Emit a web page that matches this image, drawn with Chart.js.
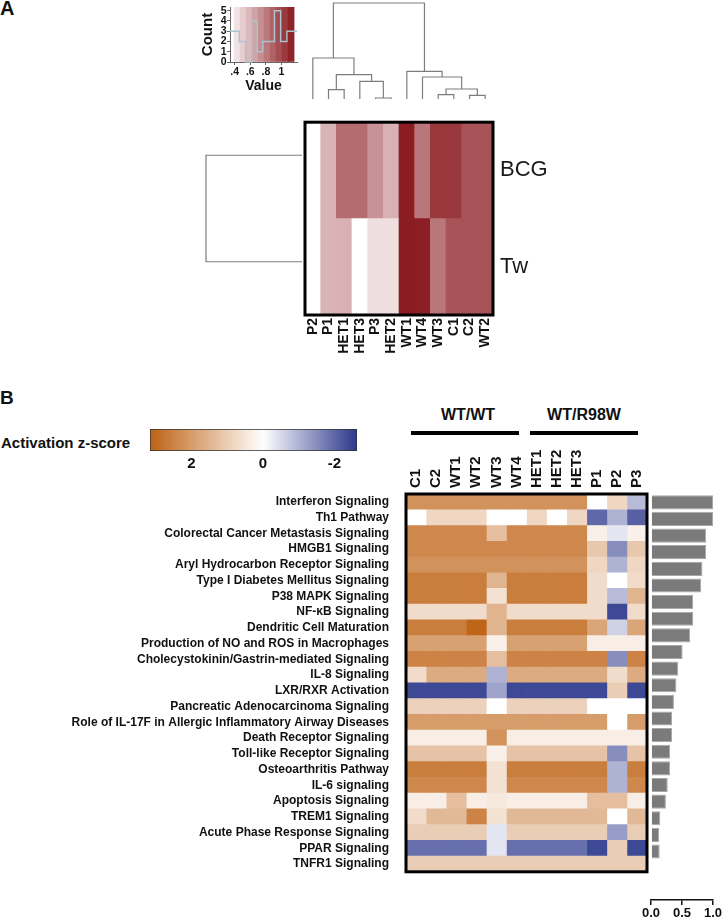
<!DOCTYPE html>
<html><head><meta charset="utf-8">
<script src="https://cdn.jsdelivr.net/npm/chart.js@4.4.1/dist/chart.umd.min.js"></script>
<style>
html,body{margin:0;padding:0;background:#fff;}
body{width:725px;height:921px;position:relative;overflow:hidden;font-family:"Liberation Sans",Arial,Helvetica,sans-serif;color:#111;}
canvas{position:absolute;}
.t{position:absolute;white-space:nowrap;font-weight:bold;line-height:1;}
.ln{position:absolute;background:#000;height:3px;}
</style></head><body>
<div class="t" style="left:0px;top:-2px;font-size:20px;">A</div>
<div class="t" style="left:0px;top:388px;font-size:19px;">B</div>
<div class="t" style="left:1px;top:435px;font-size:15px;">Activation z-score</div>
<div class="t" style="left:414px;top:407px;width:108px;text-align:center;font-size:16px;">WT/WT</div>
<div class="t" style="left:530px;top:407px;width:108px;text-align:center;font-size:16px;">WT/R98W</div>
<div class="ln" style="left:411px;top:431px;width:108px;height:3.5px;"></div>
<div class="ln" style="left:530px;top:431px;width:108px;height:3.5px;"></div>

<canvas id="keyA" width="112" height="95" style="left:195px;top:0px;"></canvas>
<canvas id="dendTop" width="208" height="100" style="left:295px;top:0px;"></canvas>
<canvas id="dendLeft" width="109" height="213" style="left:196px;top:102px;"></canvas>
<canvas id="heatA" width="258" height="263" style="left:295px;top:102px;"></canvas>
<canvas id="zKey" width="227" height="50" style="left:140px;top:425px;"></canvas>
<canvas id="heatB" width="657" height="456" style="left:0px;top:440px;"></canvas>
<canvas id="bars" width="85" height="441" style="left:640px;top:480px;"></canvas>

<script>
// ---------------- Panel A data ----------------
const colsA = ['P2','P1','HET1','HET3','P3','HET2','WT1','WT4','WT3','C1','C2','WT2'];
const rowsA = ['Tw','BCG']; // bottom to top
const valueBCG = [0.33,0.60,0.86,0.86,0.72,0.61,1.15,0.82,1.05,1.05,0.95,0.95];
const valueTw  = [0.33,0.60,0.61,0.33,0.45,0.45,1.15,1.14,0.82,0.95,0.95,0.95];
// column dendrogram merges: [childA, childB, height]; numbers = leaf index, 'mK' = merge K
const mergesCols = [[4,5,3],[8,9,13],[10,11,11],[1,2,28],['m1','m2',30],[3,'m0',53],[7,'m4',66],['m3','m5',73],[6,'m6',83],[0,'m7',123],['m9','m8',288]];
const mergesRows = [[0,1,1]];
// colour key histogram
const keySlices = [0.431,0.508,0.585,0.662,0.739,0.816,0.893,0.970,1.047,1.124];
const histEdges = [0.34,0.46,0.54,0.62,0.69,0.76,0.91,0.99,1.07,1.20];
const histCounts = [3,2,0,4,1,2,5,2,3];
const keyValueTicks = [0.4,0.6,0.8,1.0];
const keyCountTicks = [0,1,2,3,4,5];

// ---------------- Panel B data ----------------
const pathways = ['Interferon Signaling','Th1 Pathway','Colorectal Cancer Metastasis Signaling','HMGB1 Signaling','Aryl Hydrocarbon Receptor Signaling','Type I Diabetes Mellitus Signaling','P38 MAPK Signaling','NF-\u03baB Signaling','Dendritic Cell Maturation','Production of NO and ROS in Macrophages','Cholecystokinin/Gastrin-mediated Signaling','IL-8 Signaling','LXR/RXR Activation','Pancreatic Adenocarcinoma Signaling','Role of IL-17F in Allergic Inflammatory Airway Diseases','Death Receptor Signaling','Toll-like Receptor Signaling','Osteoarthritis Pathway','IL-6 signaling','Apoptosis Signaling','TREM1 Signaling','Acute Phase Response Signaling','PPAR Signaling','TNFR1 Signaling'];
const colsB = ['C1','C2','WT1','WT2','WT3','WT4','HET1','HET2','HET3','P1','P2','P3'];
const z_C1   = [2.2,0,2.4,2.4,2.2,2.6,2.6,0.7,2.6,1.9,2.5,0.7,-2.4,0.9,2.0,0.35,1.2,2.6,2.4,0.35,0.7,1.0,-1.9,1.0];
const z_C2   = [2.2,0.8,2.4,2.4,2.2,2.6,2.6,0.7,2.6,1.9,2.5,1.7,-2.4,0.9,2.0,0.35,1.2,2.6,2.4,0.35,1.4,1.0,-1.9,1.0];
const z_WT1  = [2.2,0.8,2.4,2.4,2.2,2.6,2.6,0.7,2.6,1.9,2.5,1.7,-2.4,0.9,2.0,0.35,1.2,2.6,2.4,1.3,1.4,1.0,-1.9,1.0];
const z_WT2  = [2.2,0.8,2.4,2.4,2.2,2.6,2.6,0.7,3.1,1.9,2.5,1.7,-2.4,0.9,2.0,0.35,1.2,2.6,2.4,0.35,2.5,1.0,-1.9,1.0];
const z_WT3  = [2.2,0,1.3,2.4,2.2,1.5,0.6,1.5,1.5,0.3,1.3,-1.0,-1.2,0,2.0,2.2,0.3,0.6,0.6,0.45,0.6,-0.35,-0.35,1.0];
const z_WT4  = [2.2,0,2.4,2.4,2.2,2.6,2.6,0.7,2.6,1.9,2.5,1.7,-2.4,0.9,2.0,0.35,1.2,2.6,2.4,0.35,1.4,1.0,-1.9,1.0];
const z_HET1 = [2.2,0.8,2.4,2.4,2.2,2.6,2.6,0.7,2.6,1.9,2.5,1.7,-2.4,0.9,2.0,0.35,1.2,2.6,2.4,0.35,1.4,1.0,-1.9,1.0];
const z_HET2 = [2.2,0,2.4,2.4,2.2,2.6,2.6,0.7,2.6,1.9,2.5,1.7,-2.4,0.9,2.0,0.35,1.2,2.6,2.4,0.35,1.4,1.0,-1.9,1.0];
const z_HET3 = [2.2,0.8,2.4,2.4,2.2,2.6,2.6,0.7,2.6,1.9,2.5,1.7,-2.4,0.9,2.0,0.35,1.2,2.6,2.4,0.35,1.4,1.0,-1.9,1.0];
const z_P1   = [0,-2.0,0.3,1.1,0.8,0.7,0.7,0.7,1.8,0.35,2.5,1.7,-2.4,0,2.0,0.35,1.2,2.6,2.4,1.3,1.4,1.0,-2.4,1.0];
const z_P2   = [0.8,-1.0,-0.35,-1.5,-1.0,0,-0.9,-2.4,-0.6,0.35,-1.5,0.7,1.0,0,0,0.35,-1.5,-1.0,-1.0,1.3,0,-1.3,1.0,1.0];
const z_P3   = [-0.9,-2.1,0.3,1.1,0.8,0.7,1.5,0.7,1.8,0.35,2.5,1.7,-2.4,0,2.0,0.35,1.2,2.6,2.4,0.35,1.4,1.0,-2.4,1.0];
const zByColumn = [z_C1,z_C2,z_WT1,z_WT2,z_WT3,z_WT4,z_HET1,z_HET2,z_HET3,z_P1,z_P2,z_P3];
const barValues = [1.0,1.0,0.89,0.89,0.83,0.81,0.68,0.68,0.63,0.51,0.44,0.41,0.37,0.34,0.34,0.31,0.31,0.27,0.24,0.15,0.13,0.14,null,null];
const barTicks = [0,0.5,1.0];
const zMin = -2.63, zMax = 3.16;
const zTicks = [2,0,-2];

// ---------------- helpers ----------------
const FONT = '"Liberation Sans", Arial, Helvetica, sans-serif';
Chart.defaults.font.family = FONT;
Chart.defaults.color = '#111';
Chart.defaults.animation = false;
const rgb = (r,g,b)=>`rgb(${Math.round(r)},${Math.round(g)},${Math.round(b)})`;
function heatA(v){
  const t = Math.max(0, Math.min(1, (v-0.33)/(1.15-0.33)));
  return rgb(255-116*t, 255-227*t, 255-221*t);
}
function zColor(z){
  if (z >= 0){ const t = Math.min(z/3.16, 1); return rgb(255-65*t, 255-157*t, 255-235*t); }
  const t = Math.min(-z/2.63, 1); return rgb(255-211*t, 255-199*t, 255-115*t);
}
const framePlugin = {
  id:'frame',
  afterDatasetsDraw(chart, args, opts){
    if (!opts || !opts.on) return;
    const {ctx, chartArea:a} = chart;
    ctx.save(); ctx.strokeStyle = '#000'; ctx.lineWidth = opts.width || 3;
    ctx.strokeRect(a.left, a.top, a.right-a.left, a.bottom-a.top);
    ctx.restore();
  }
};
function dendroSegments(merges){
  const pos = {}, hts = {};
  const gx = id => typeof id === 'number' ? id : pos[id];
  const gh = id => typeof id === 'number' ? 0 : hts[id];
  return merges.map((m,k)=>{
    const [a,b,h] = m;
    const xa = gx(a), xb = gx(b), ha = gh(a), hb = gh(b);
    pos['m'+k] = (xa+xb)/2; hts['m'+k] = h;
    return [{x:xa,y:ha},{x:xa,y:h},{x:xb,y:h},{x:xb,y:hb}];
  });
}
const noPlug = {legend:{display:false}, tooltip:{enabled:false}};
const noGrid = {display:false, drawTicks:false};

// ---------------- colour key (panel A) ----------------
const histPoints = histCounts.map((c,i)=>({x:histEdges[i], y:c}));
histPoints.push({x:histEdges[histEdges.length-1], y:histCounts[histCounts.length-1]});
const keyYMax = 5.36;
new Chart(document.getElementById('keyA'), {
  type:'bar',
  data:{datasets:[
    {type:'line', data:histPoints, stepped:true, borderColor:'#a9c4cd', borderWidth:1.4, pointRadius:0, fill:false, clip:false},
    {type:'bar', data:keySlices.map(c=>({x:c, y:keyYMax})), backgroundColor:keySlices.map(heatA), barPercentage:1, categoryPercentage:1, borderWidth:0}
  ]},
  options:{responsive:false, animation:false, layout:{padding:{left:0,top:7,right:10,bottom:0}}, plugins:noPlug,
    scales:{
      x:{type:'linear', min:0.34, max:1.2, offset:false,
         afterBuildTicks(s){ s.ticks = keyValueTicks.map(v=>({value:v})); },
         ticks:{padding:1, autoSkip:false, maxRotation:0, color:'#111', font:{size:10.5,weight:'bold'}, callback:v=> v===1 ? '1' : String(v).replace(/^0/,'')},
         grid:{drawOnChartArea:false, tickLength:3, color:'#666', offset:false}, border:{color:'#666'},
         title:{display:true, text:'Value', color:'#111', font:{size:14,weight:'bold'}, padding:{top:0,bottom:0.5}},
         afterFit(s){ s.height = 33; }},
      y:{type:'linear', min:0, max:keyYMax,
         afterBuildTicks(s){ s.ticks = keyCountTicks.map(v=>({value:v})); },
         ticks:{padding:0.5, autoSkip:false, color:'#111', font:{size:10.5,weight:'bold'}},
         grid:{drawOnChartArea:false, tickLength:3, color:'#666'}, border:{color:'#666'},
         title:{display:true, text:'Count', color:'#111', font:{size:15,weight:'bold'}, padding:{top:3.5,bottom:0}},
         afterFit(s){ s.width = 35; }}
    }}
});

// ---------------- dendrograms (panel A) ----------------
new Chart(document.getElementById('dendTop'), {
  type:'scatter',
  data:{datasets: dendroSegments(mergesCols).map(seg=>({data:seg, showLine:true, borderColor:'#7d7d7d', borderWidth:1.2, pointRadius:0, clip:false}))},
  options:{responsive:false, animation:false, layout:{padding:{left:10,right:10,top:3,bottom:1}}, plugins:noPlug,
    scales:{x:{type:'linear', min:-0.5, max:colsA.length-0.5, display:false}, y:{type:'linear', min:0, max:288, display:false}}}
});
new Chart(document.getElementById('dendLeft'), {
  type:'scatter',
  data:{datasets: dendroSegments(mergesRows).map(seg=>({data:seg.map(p=>({x:p.y, y:p.x})), showLine:true, borderColor:'#7d7d7d', borderWidth:1.2, pointRadius:0, clip:false}))},
  options:{responsive:false, animation:false, layout:{padding:{left:10,right:3,top:0,bottom:0}}, plugins:noPlug,
    scales:{x:{type:'linear', min:0, max:1, reverse:true, display:false}, y:{type:'linear', min:-0.5, max:1.5, reverse:true, display:false}}}
});

// ---------------- heatmap A ----------------
new Chart(document.getElementById('heatA'), {
  type:'bar',
  data:{labels:colsA, datasets:[
    {label:'Tw', data:colsA.map(()=>1), backgroundColor:valueTw.map(heatA)},
    {label:'BCG', data:colsA.map(()=>1), backgroundColor:valueBCG.map(heatA)}
  ]},
  options:{responsive:false, animation:false, layout:{padding:{left:10,top:0,right:0,bottom:0}},
    datasets:{bar:{barPercentage:1, categoryPercentage:1, borderWidth:0}},
    plugins:{...noPlug, frame:{on:true, width:3}},
    scales:{
      x:{stacked:true, grid:noGrid, border:{display:false},
         ticks:{minRotation:90, maxRotation:90, autoSkip:false, padding:3, color:'#111', font:{size:14,weight:'bold'}},
         afterFit(s){ s.height = 50; }},
      y:{stacked:true, position:'right', min:0, max:2, grid:noGrid, border:{display:false},
         afterBuildTicks(s){ s.ticks = [{value:0.5},{value:1.5}]; },
         ticks:{padding:7, color:'#1a1a1a', font:{size:22}, callback:(v,i)=>rowsA[i]},
         afterFit(s){ s.width = 60; }}
    }},
  plugins:[framePlugin]
});

// ---------------- z-score legend (panel B) ----------------
new Chart(document.getElementById('zKey'), {
  type:'bar',
  data:{labels:[''], datasets:[{data:[[zMin,zMax]], borderColor:'#333', borderWidth:1, borderSkipped:false, barPercentage:1, categoryPercentage:1,
    backgroundColor:(ctx)=>{
      const ch = ctx.chart, a = ch.chartArea;
      if (!a) return '#ddd';
      const g = ch.ctx.createLinearGradient(a.left,0,a.right,0);
      for (let i=0;i<=20;i++){ const f=i/20; g.addColorStop(f, zColor(zMax - f*(zMax-zMin))); }
      return g;
    }}]},
  options:{indexAxis:'y', responsive:false, animation:false, layout:{padding:{left:10,right:10,top:4,bottom:0}}, plugins:noPlug,
    scales:{
      x:{type:'linear', min:zMin, max:zMax, reverse:true, grid:noGrid, border:{display:false},
         afterBuildTicks(s){ s.ticks = zTicks.map(v=>({value:v})); },
         ticks:{padding:4, maxRotation:0, autoSkip:false, color:'#111', font:{size:15,weight:'bold'}},
         afterFit(s){ s.height = 24; }},
      y:{display:false}
    }}
});

// ---------------- heatmap B ----------------
new Chart(document.getElementById('heatB'), {
  type:'bar',
  data:{labels:pathways, datasets: colsB.map((c,j)=>({label:c, data:pathways.map(()=>1), backgroundColor:zByColumn[j].map(zColor)}))},
  options:{indexAxis:'y', responsive:false, animation:false, layout:{padding:{left:0,top:0,right:10,bottom:3}},
    datasets:{bar:{barPercentage:1, categoryPercentage:1, borderWidth:0}},
    plugins:{...noPlug, frame:{on:true, width:3}},
    scales:{
      x:{type:'linear', position:'top', stacked:true, min:0, max:colsB.length, grid:noGrid, border:{display:false},
         afterBuildTicks(s){ s.ticks = colsB.map((c,i)=>({value:i+0.5})); },
         ticks:{minRotation:90, maxRotation:90, autoSkip:false, padding:6, labelOffset:18, color:'#111', font:{size:15,weight:'bold'}, callback:(v,i)=>colsB[i]},
         afterFit(s){ s.height = 54; }},
      y:{stacked:true, grid:noGrid, border:{display:false},
         ticks:{padding:17, autoSkip:false, color:'#111', font:{size:12,weight:'bold'}},
         afterFit(s){ s.width = 406; }}
    }},
  plugins:[framePlugin]
});

// ---------------- bars (panel B right) ----------------
new Chart(document.getElementById('bars'), {
  type:'bar',
  data:{datasets:[{data: barValues.map((v,i)=>({x:v, y:i})).filter(d=>d.x!==null),
    backgroundColor:'#7b7b7b', borderColor:'#a8a8a8', borderWidth:1, barPercentage:0.85, categoryPercentage:1}]},
  options:{indexAxis:'y', responsive:false, animation:false, layout:{padding:{left:11,right:12,top:14,bottom:0}}, plugins:noPlug,
    scales:{
      x:{type:'linear', min:0, max:1, position:'bottom',
         afterBuildTicks(s){ s.ticks = barTicks.map(v=>({value:v})); },
         ticks:{padding:1, maxRotation:0, autoSkip:false, color:'#111', font:{size:13,weight:'bold'}, callback:v=>v.toFixed(1)},
         grid:{drawOnChartArea:false, drawTicks:true, tickLength:5, color:'#111', lineWidth:1.5},
         border:{display:true, color:'#111', width:1.5},
         afterFit(s){ s.height = 21; }},
      y:{type:'linear', min:-0.5, max:23.92, reverse:true, offset:false, display:false}
    }}
});
</script>
</body></html>
